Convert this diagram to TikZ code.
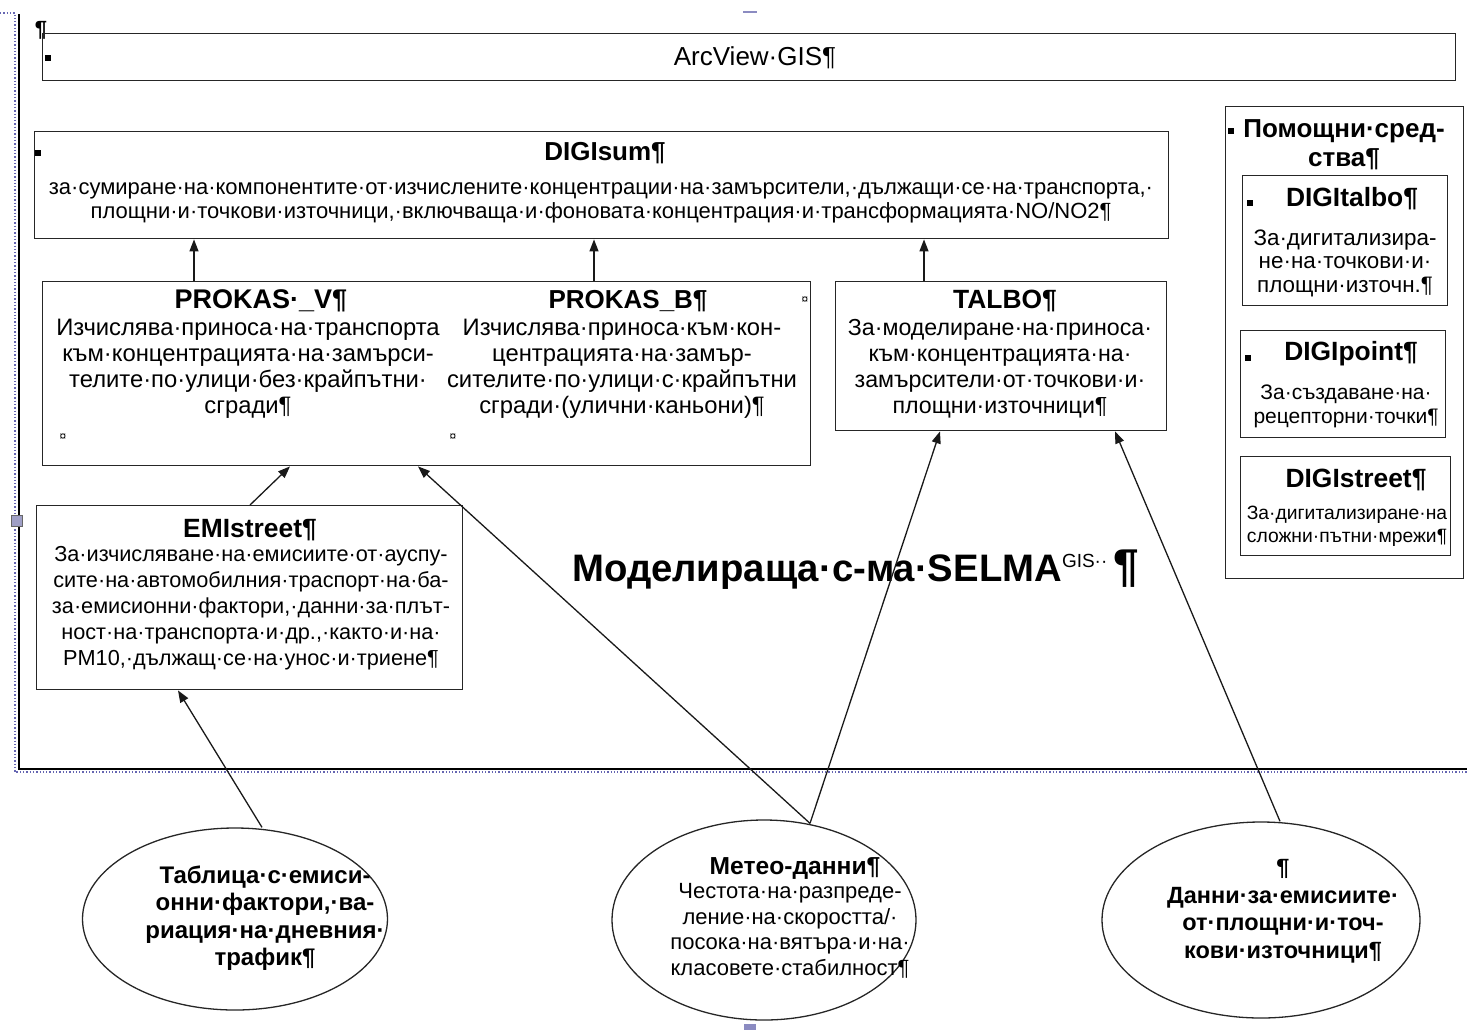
\documentclass[tikz,border=0pt]{standalone}
\usepackage{fontspec}
\setmainfont{Liberation Sans}
\usetikzlibrary{arrows.meta,shapes.geometric}
\newcommand\fsz[2]{\fontsize{#1}{#2}\selectfont}
\begin{document}
\begin{tikzpicture}[x=1pt,y=-1pt,
  box/.style={draw=black!85,line width=1.4pt,inner sep=0pt,anchor=north west},
  ell/.style={draw=black!85,line width=1.3pt,ellipse,inner sep=0pt},
  txt/.style={inner sep=0pt,align=center},
  bul/.style={fill=black,inner sep=0pt,minimum size=6pt},
  arr/.style={line width=1.3pt,draw=black!90,-{Triangle[length=12pt,width=9pt]}},
  curmark/.style={inner sep=0pt,font=\fsz{12}{12}},
  frm/.style={draw=black!50!blue!60,line width=1.3pt,dotted}]
\useasboundingbox (0,0) rectangle (1467,1029);
% page frame
\draw[frm] (0,13) -- (15,13) -- (15,772) -- (1467,772);
\draw[line width=1.6pt] (19,14) -- (19,769) -- (1467,769);
\node[draw=black!60,fill=blue!25!gray!60,minimum size=11pt,inner sep=0pt] (hnd) at (17,521) {};
\node[fill=blue!30!gray!70,minimum width=14pt,minimum height=2pt,inner sep=0pt] (hnt) at (750,12) {};
\node[fill=blue!30!gray!70,minimum width=12pt,minimum height=6pt,inner sep=0pt] (hnb) at (750,1027) {};
\node[txt,font=\fsz{22}{22}\bfseries] (pil) at (41,30) {¶};
% ArcView
\node[box,minimum width=1413pt,minimum height=47pt] (arc) at (42,33) {};
\node[bul] (b1) at (48,58) {};
\node[txt,font=\fsz{26}{28}] (arct) at (755,58) {ArcView·GIS¶};
% DIGIsum
\node[box,minimum width=1134pt,minimum height=107pt] (sum) at (34,131) {};
\node[bul] (b2) at (38,153) {};
\node[txt,font=\fsz{26}{28}\bfseries] (sumt) at (605,153) {DIGIsum¶};
\node[txt,font=\fsz{22}{24}] (sumb) at (601,203) {за·сумиране·на·компонентите·от·изчислените·концентрации·на·замърсители,·дължащи·се·на·транспорта,·\\площни·и·точкови·източници,·включваща·и·фоновата·концентрация·и·трансформацията·NO/NO2¶};
% PROKAS
\node[box,minimum width=768pt,minimum height=184pt] (pro) at (42,281) {};
\node[txt,font=\fsz{27}{28}\bfseries] (pvt) at (261,301) {PROKAS·\_V¶};
\node[txt,font=\fsz{23.8}{26}] (pvb) at (248,369) {Изчислява·приноса·на·транспорта\\към·концентрацията·на·замърси-\\телите·по·улици·без·крайпътни·\\сгради¶};
\node[txt,font=\fsz{26}{28}\bfseries] (pbt) at (628,301) {PROKAS\_B¶};
\node[txt,font=\fsz{23.8}{26}] (pbb) at (622,369) {Изчислява·приноса·към·кон-\\центрацията·на·замър-\\сителите·по·улици·с·крайпътни\\сгради·(улични·каньони)¶};
\node[curmark] (c1) at (63,437) {¤};
\node[curmark] (c2) at (453,437) {¤};
\node[curmark] (c3) at (805,300) {¤};
% TALBO
\node[box,minimum width=331pt,minimum height=149pt] (tal) at (835,281) {};
\node[txt,font=\fsz{26.4}{28}\bfseries] (talt) at (1005,301) {TALBO¶};
\node[txt,font=\fsz{23.2}{26}] (talb) at (1000,369) {За·моделиране·на·приноса·\\към·концентрацията·на·\\замърсители·от·точкови·и·\\площни·източници¶};
% EMIstreet
\node[box,minimum width=426pt,minimum height=184pt] (emi) at (36,505) {};
\node[txt,font=\fsz{26.4}{28}\bfseries] (emit) at (250,530) {EMIstreet¶};
\node[txt,font=\fsz{21.7}{26}] (emib) at (251,608) {За·изчисляване·на·емисиите·от·ауспу-\\сите·на·автомобилния·траспорт·на·ба-\\за·емисионни·фактори,·данни·за·плът-\\ност·на·транспорта·и·др.,·както·и·на·\\PM10,·дължащ·се·на·унос·и·триене¶};
% tools
\node[box,minimum width=238pt,minimum height=472pt] (hlp) at (1225,106) {};
\node[bul] (b3) at (1231,131) {};
\node[txt,font=\fsz{26}{29}\bfseries] (hlpt) at (1344,145) {Помощни·сред-\\ства¶};
\node[box,minimum width=205pt,minimum height=130pt] (dta) at (1242,175) {};
\node[bul] (b4) at (1250,203) {};
\node[txt,font=\fsz{26.4}{28}\bfseries] (dtat) at (1352,199) {DIGItalbo¶};
\node[txt,font=\fsz{22.4}{23.5}] (dtab) at (1345,263) {За·дигитализира-\\не·на·точкови·и·\\площни·източн.¶};
\node[box,minimum width=205pt,minimum height=107pt] (dpo) at (1240,330) {};
\node[bul] (b5) at (1248,358) {};
\node[txt,font=\fsz{26.4}{28}\bfseries] (dpot) at (1351,354) {DIGIpoint¶};
\node[txt,font=\fsz{21}{24}] (dpob) at (1346,406) {За·създаване·на·\\рецепторни·точки¶};
\node[box,minimum width=210pt,minimum height=99pt] (dst) at (1240,456) {};
\node[txt,font=\fsz{26.4}{28}\bfseries] (dstt) at (1356,480) {DIGIstreet¶};
\node[txt,font=\fsz{19.3}{23}] (dstb) at (1347,526) {За·дигитализиране·на\\сложни·пътни·мрежи¶};
% title
\node[txt,anchor=west,font=\fsz{38.3}{44}\bfseries] (selma) at (572,570) {Моделираща·с-ма·SELMA\raisebox{14pt}{\fsz{19}{19}\mdseries GIS··}\,{\fsz{46}{46}¶}};
% ellipses
\node[ell,minimum width=305pt,minimum height=182pt] (tab) at (235,919) {};
\node[txt,font=\fsz{24}{27.5}\bfseries] (tabt) at (265,918) {Таблица·с·емиси-\\онни·фактори,·ва-\\риация·на·дневния·\\трафик¶};
\node[ell,minimum width=304pt,minimum height=200pt] (met) at (764,920) {};
\node[txt,font=\fsz{24.6}{26}\bfseries] (mett) at (795,868) {Метео-данни¶};
\node[txt,font=\fsz{22}{25.5}] (metb) at (790,931) {Честота·на·разпреде-\\ление·на·скоростта/·\\посока·на·вятъра·и·на·\\класовете·стабилност¶};
\node[ell,minimum width=318pt,minimum height=196pt] (ems) at (1261,920) {};
\node[txt,font=\fsz{23.5}{27.5}\bfseries] (emst) at (1283,911) {¶\\Данни·за·емисиите·\\от·площни·и·точ-\\кови·източници¶};
% connectors
\draw[arr] ([xshift=152pt]pro.north west) -- ([xshift=160pt]sum.south west);
\draw[arr] ([xshift=552pt]pro.north west) -- ([xshift=560pt]sum.south west);
\draw[arr] ([xshift=89pt]tal.north west) -- ([xshift=890pt]sum.south west);
\draw[arr] ([xshift=214pt]emi.north west) -- ([xshift=248pt]pro.south west);
\draw[arr] ([xshift=27pt]tab.north) -- ([xshift=142pt]emi.south west);
\draw[arr] ([xshift=46pt,yshift=-4pt]met.north) -- ([xshift=376pt]pro.south west);
\draw[arr] ([xshift=46pt,yshift=-4pt]met.north) -- ([xshift=105pt]tal.south west);
\draw[arr] ([xshift=19pt]ems.north) -- ([xshift=280pt]tal.south west);
\end{tikzpicture}
\end{document}
